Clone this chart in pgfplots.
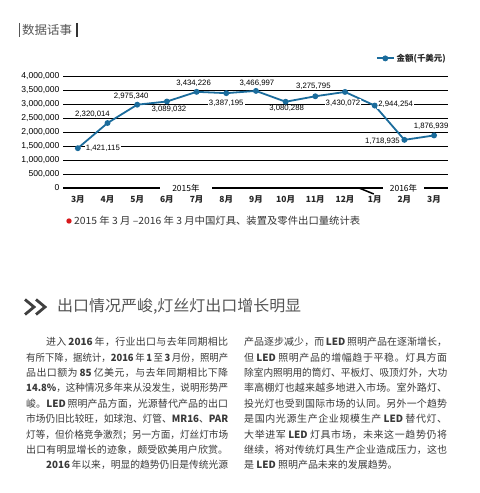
\documentclass[border=0pt]{standalone}
\usepackage{pgfplots}
\pgfplotsset{compat=1.18}
\usepackage{fontspec}
\usepackage{graphicx}
\setmainfont{Liberation Sans}
\newfontfamily\cjk{Noto Sans CJK SC}
\definecolor{lineblue}{HTML}{1B6C9C}
\definecolor{txt}{HTML}{3A3A3A}
\definecolor{hd}{HTML}{555555}
\definecolor{dotred}{HTML}{D7191C}
\newsavebox\jbox
\makeatletter
\newcommand\jl[2]{\sbox\jbox{\@tfor\@tok:=#2\do{\@tok}}\ifdim\wd\jbox>#1\relax\resizebox{#1}{\height}{\usebox\jbox}\else\hbox to #1{\@tfor\@tok:=#2\do{\@tok\hskip 0pt plus 1fil\relax}\unskip}\fi}
\makeatother
\tikzset{body/.style={anchor=base west, inner sep=0pt, text=txt, font=\cjk\fontsize{10}{12}\selectfont},
  lbl/.style={fill=white, inner sep=1bp, font=\fontsize{7.8}{9}\selectfont, text=black}}
\begin{document}
\begin{tikzpicture}[x=1bp,y=1bp]
\fill[white] (0,0) rectangle (480,493);
\path[use as bounding box] (0,0) rectangle (480,493);
% header
\draw[line width=0.8bp, hd] (19.5,470) -- (19.5,456);
\node[anchor=west, inner sep=0pt, text=hd, font=\cjk\fontsize{12}{14}\selectfont] at (22,463) {\resizebox{50bp}{\height}{数据话事}};
\draw[line width=2.2bp, black!80] (77,470) -- (77,456);
\begin{axis}[
  at={(63bp,305bp)}, anchor=south west,
  scale only axis, width=385bp, height=112bp,
  xmin=-0.5, xmax=12.47, ymin=0, ymax=4000000,
  clip=false,
  axis line style={draw=none},
  major tick length=0,
  xtick={0,1,2,3,4,5,6,7,8,9,10,11,12},
  xticklabels={3月,4月,5月,6月,7月,8月,9月,10月,11月,12月,1月,2月,3月},
  xticklabel style={font=\cjk\bfseries\fontsize{8.5}{10}\selectfont, text=black!85, yshift=-4bp},
  ytick={0,500000,1000000,1500000,2000000,2500000,3000000,3500000,4000000},
  scaled y ticks=false,
  /pgf/number format/fixed,
  /pgf/number format/1000 sep={,},
  /pgf/number format/assume math mode=true,
  yticklabel style={font=\fontsize{8.6}{10}\selectfont, text=black},
  ymajorgrids, grid style={black, line width=0.8bp},
  legend style={at={(rel axis cs:1,1)}, anchor=south east, yshift=11bp, draw=none, fill=none, inner sep=0pt,
    font=\cjk\bfseries\fontsize{8.5}{10}\selectfont, text=black!85},
]
\addplot[lineblue, line width=1.8bp, mark=*, mark size=2bp, mark options={fill=lineblue, draw=lineblue}] table {
x y
0 1421115
1 2320014
2 2975340
3 3089032
4 3434226
5 3387195
6 3466997
7 3080288
8 3275795
9 3430072
10 2944254
11 1718935
12 1876939
};
\addlegendentry{金额(千美元)}
\draw[black, line width=2bp] (axis cs:-0.5,0) -- (axis cs:12.47,0);
\draw[black, line width=1.5bp] (axis cs:9.47,0) -- ++(0,-6bp);
\node[fill=white, inner xsep=12bp, inner ysep=1.5bp, font=\cjk\fontsize{8.5}{10}\selectfont] at (axis cs:3.64,0) {2015年};
\node[fill=white, inner xsep=6.5bp, inner ysep=1.5bp, font=\cjk\fontsize{8.5}{10}\selectfont] at (axis cs:10.97,0) {2016年};
\node[lbl, xshift=25bp] at (axis cs:0,1421115) {1,421,115};
\node[lbl, xshift=-15bp, yshift=9bp] at (axis cs:1,2320014) {2,320,014};
\node[lbl, xshift=-6bp, yshift=8bp] at (axis cs:2,2975340) {2,975,340};
\node[lbl, xshift=2bp, yshift=-8bp] at (axis cs:3,3089032) {3,089,032};
\node[lbl, xshift=-3bp, yshift=9bp] at (axis cs:4,3434226) {3,434,226};
\node[lbl, xshift=0bp, yshift=-10bp] at (axis cs:5,3387195) {3,387,195};
\node[lbl, xshift=1bp, yshift=8bp] at (axis cs:6,3466997) {3,466,997};
\node[lbl, xshift=1bp, yshift=-7bp] at (axis cs:7,3080288) {3,080,288};
\node[lbl, xshift=-2bp, yshift=10bp] at (axis cs:8,3275795) {3,275,795};
\node[lbl, xshift=-2bp, yshift=-11bp] at (axis cs:9,3430072) {3,430,072};
\node[lbl, xshift=21bp, yshift=1bp] at (axis cs:10,2944254) {2,944,254};
\node[lbl, xshift=-22bp, yshift=-1bp] at (axis cs:11,1718935) {1,718,935};
\node[lbl, xshift=-3bp, yshift=9bp] at (axis cs:12,1876939) {1,876,939};
\end{axis}
% caption
\fill[dotred] (69,272) circle (2.7);
\node[anchor=base west, inner sep=0pt, text=black!80, font=\cjk\fontsize{10}{12}\selectfont] at (74,268.2) {\resizebox{286bp}{\height}{2015 年 3 月 –2016 年 3 月中国灯具、装置及零件出口量统计表}};
% heading
\draw[line width=2.8bp, black!75, line join=miter] (25,193.5) -- (34,186) -- (25,178.5);
\draw[line width=2.8bp, black!75, line join=miter] (36,193.5) -- (45,186) -- (36,178.5);
\node[anchor=base west, inner sep=0pt, text=hd, font=\cjk\fontsize{15.5}{18}\selectfont] at (57,181.1) {\resizebox{244bp}{\height}{出口情况严峻,灯丝灯出口增长明显}};
% left column
\node[body] at (46,147.2) {\jl{182bp}{进入{\,\textbf{2016}\,}年，行业出口与去年同期相比}};
\node[body] at (26,131.8) {\jl{202bp}{有所下降，据统计，{\textbf{2016}\,}年{\,\textbf{1}\,}至{\,\textbf{3}\,}月份，照明产}};
\node[body] at (26,116.4) {\jl{202bp}{品出口额为{\,\textbf{85}\,}亿美元，与去年同期相比下降}};
\node[body] at (26,101.0) {\jl{202bp}{{\textbf{14.8\%}}，这种情况多年来从没发生，说明形势严}};
\node[body] at (26,85.6) {\jl{202bp}{峻。{\textbf{LED}\,}照明产品方面，光源替代产品的出口}};
\node[body] at (26,70.2) {\jl{202bp}{市场仍旧比较旺，如球泡、灯管、{\textbf{MR16}}、{\textbf{PAR}}}};
\node[body] at (26,54.8) {\jl{202bp}{灯等，但价格竞争激烈；另一方面，灯丝灯市场}};
\node[body] at (26,39.4) {\jl{202bp}{出口有明显增长的迹象，颇受欧美用户欣赏。}};
\node[body] at (46,24.0) {\jl{182bp}{{\textbf{2016}\,}年以来，明显的趋势仍旧是传统光源}};
% right column
\node[body] at (244,147.2) {\jl{203bp}{产品逐步减少，而{\,\textbf{LED}\,}照明产品在逐渐增长，}};
\node[body] at (244,131.8) {\jl{203bp}{但{\,\textbf{LED}\,}照明产品的增幅趋于平稳。灯具方面}};
\node[body] at (244,116.4) {\jl{203bp}{除室内照明用的筒灯、平板灯、吸顶灯外，大功}};
\node[body] at (244,101.0) {\jl{203bp}{率高棚灯也越来越多地进入市场。室外路灯、}};
\node[body] at (244,85.6) {\jl{203bp}{投光灯也受到国际市场的认同。另外一个趋势}};
\node[body] at (244,70.2) {\jl{203bp}{是国内光源生产企业规模生产{\,\textbf{LED}\,}替代灯、}};
\node[body] at (244,54.8) {\jl{203bp}{大举进军{\,\textbf{LED}\,}灯具市场，未来这一趋势仍将}};
\node[body] at (244,39.4) {\jl{203bp}{继续，将对传统灯具生产企业造成压力，这也}};
\node[body] at (244,24.0) {是 \textbf{LED} 照明产品未来的发展趋势。};
\end{tikzpicture}
\end{document}
